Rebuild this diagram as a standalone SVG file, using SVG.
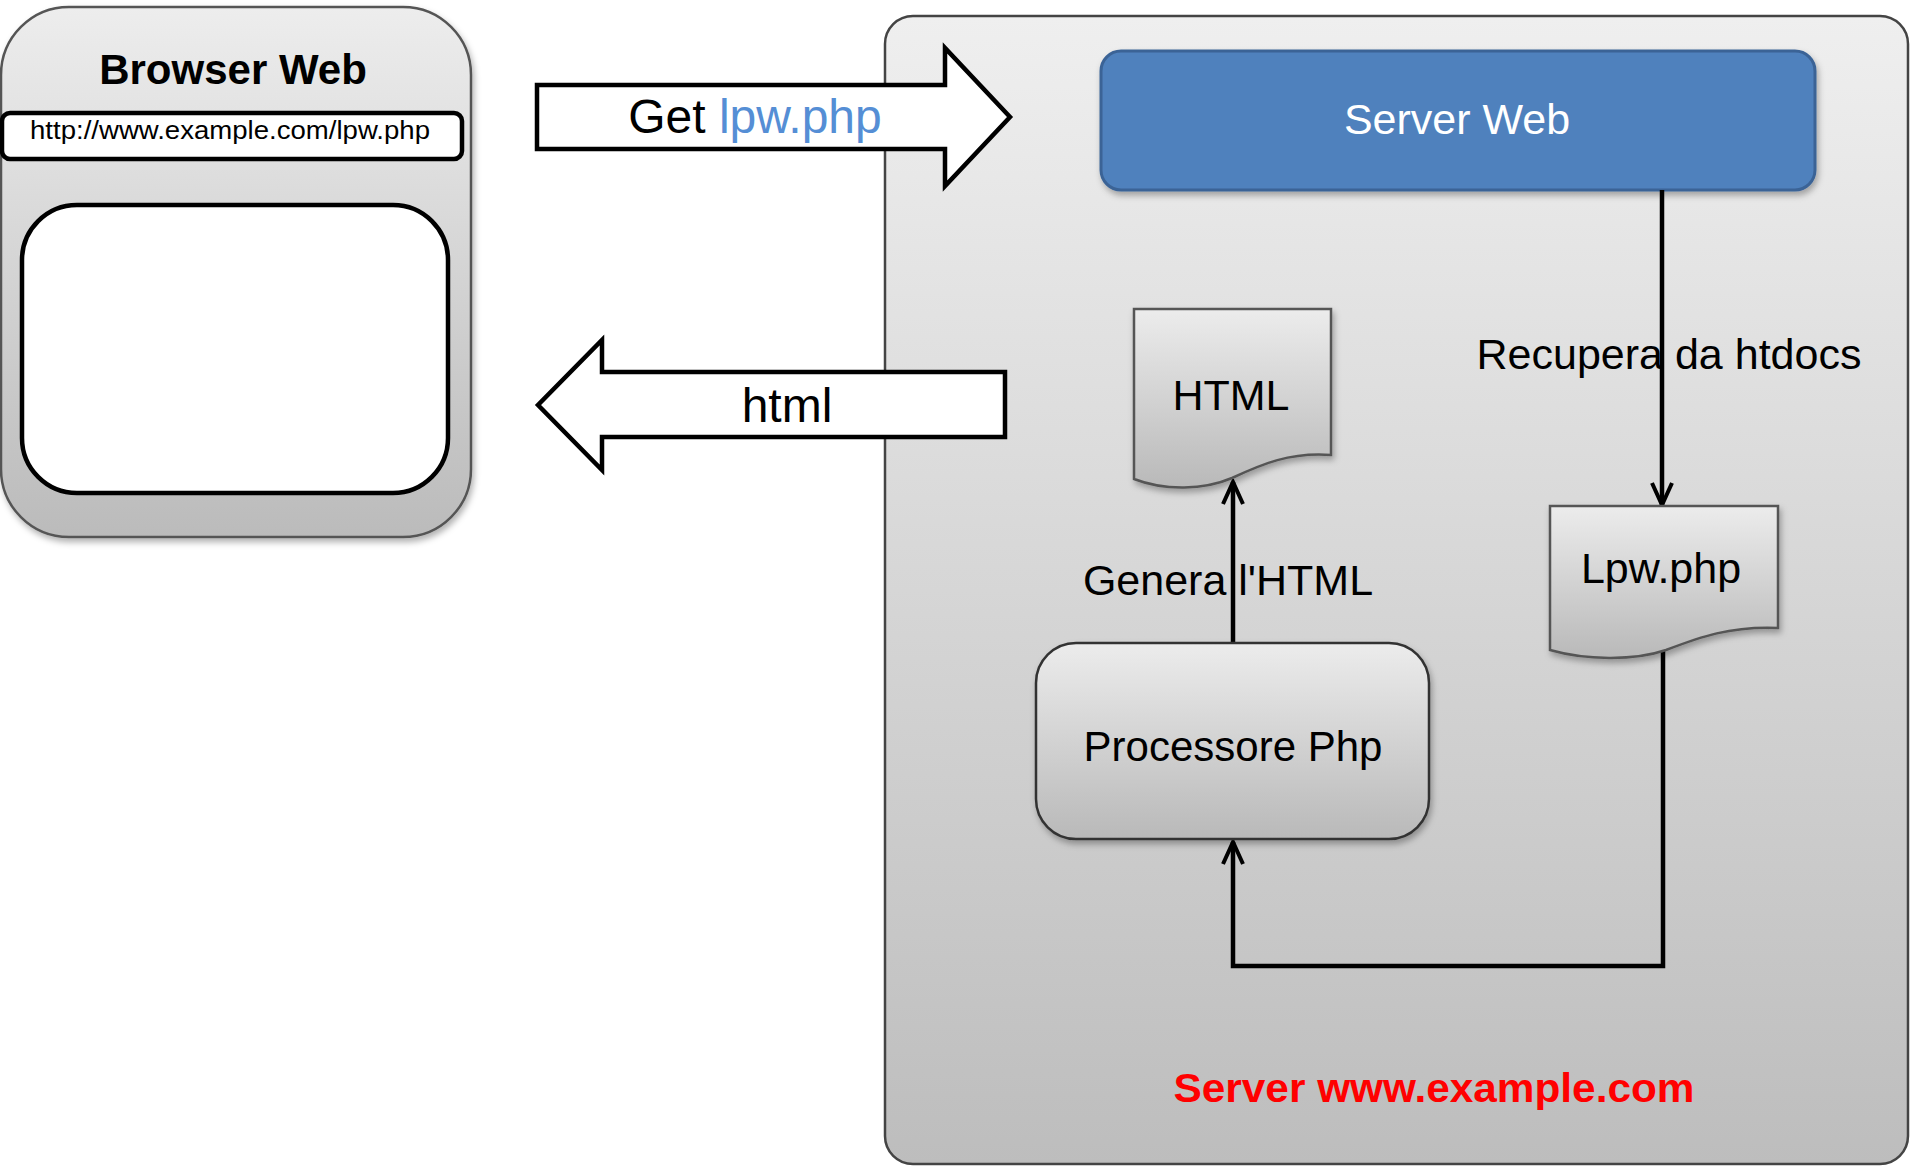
<svg xmlns="http://www.w3.org/2000/svg" width="1915" height="1166" viewBox="0 0 1915 1166">
<style>
text{font-family:"Liberation Sans",Arial,sans-serif;fill:#000}
.big{font-size:43px}
.bigarrow{fill:#fff;stroke:#000;stroke-width:4.5;stroke-linejoin:miter}
.conn{fill:none;stroke:#000;stroke-width:4.5}
.doc{stroke:#555;stroke-width:2.5}
</style>
<defs>
<linearGradient id="gBrowser" x1="0" y1="0" x2="0" y2="1"><stop offset="0" stop-color="#ededed"/><stop offset="1" stop-color="#bbbbbb"/></linearGradient>
<linearGradient id="gServer" x1="0" y1="0" x2="0" y2="1"><stop offset="0" stop-color="#efefef"/><stop offset="1" stop-color="#bdbdbd"/></linearGradient>
<linearGradient id="gNode" x1="0" y1="0" x2="0" y2="1"><stop offset="0" stop-color="#ececec"/><stop offset="1" stop-color="#b9b9b9"/></linearGradient>
<filter id="sh" x="-10%" y="-10%" width="125%" height="125%"><feDropShadow dx="2" dy="4" stdDeviation="3" flood-color="#000" flood-opacity="0.3"/></filter>
<marker id="arr" markerUnits="userSpaceOnUse" markerWidth="28" markerHeight="28" viewBox="0 0 28 28" refX="25" refY="14" orient="auto">
<path d="M3,4 L25,14 L3,24" fill="none" stroke="#000" stroke-width="4" stroke-linejoin="miter"/>
</marker>
</defs>

<g id="browser">
<rect x="1" y="7" width="470" height="530" rx="68" ry="68" fill="url(#gBrowser)" stroke="#555" stroke-width="2.5" filter="url(#sh)"/>
<text x="233" y="84" font-size="42" font-weight="bold" text-anchor="middle">Browser Web</text>
<rect x="2" y="113" width="460" height="46" rx="8" fill="#fff" stroke="#000" stroke-width="4.5"/>
<text x="230" y="139" font-size="25" text-anchor="middle" textLength="400" lengthAdjust="spacingAndGlyphs">http://www.example.com/lpw.php</text>
<rect x="22" y="205" width="426" height="288" rx="55" fill="#fff" stroke="#000" stroke-width="4.5"/>
</g>

<g id="server">
<rect x="885" y="16" width="1023" height="1148" rx="28" fill="url(#gServer)" stroke="#444" stroke-width="2.5"/>
<text x="1434" y="1102" font-size="40" font-weight="bold" text-anchor="middle" style="fill:#ff0000" textLength="521" lengthAdjust="spacingAndGlyphs">Server www.example.com</text>
</g>

<g id="arrow-get">
<polygon class="bigarrow" points="537,85 945,85 945,48 1010,117 945,186 945,149 537,149"/>
<text x="755" y="133" font-size="48" text-anchor="middle">Get <tspan style="fill:#558ed5">lpw.php</tspan></text>
</g>

<g id="arrow-html">
<polygon class="bigarrow" points="1005,372 602,372 602,340 538,405 602,470 602,437 1005,437"/>
<text x="787" y="422" font-size="48" text-anchor="middle">html</text>
</g>

<g id="serverweb">
<rect x="1101" y="51" width="714" height="139" rx="20" fill="#4f81bd" stroke="#3b6396" stroke-width="3" filter="url(#sh)"/>
<text x="1457" y="134" class="big" text-anchor="middle" style="fill:#fff">Server Web</text>
</g>

<g id="connectors">
<path class="conn" d="M1662,190 V505" marker-end="url(#arr)"/>
<path class="conn" d="M1663,650 V966 H1233 V842" marker-end="url(#arr)"/>
<path class="conn" d="M1233,642 V482" marker-end="url(#arr)"/>
</g>

<g id="html-doc">
<path class="doc" d="M1134,309 H1331 V455 C1290,452 1262,464 1232,478 C1204,490 1165,491 1134,479 Z" fill="url(#gNode)" filter="url(#sh)"/>
<text x="1231" y="410" class="big" text-anchor="middle">HTML</text>
</g>

<g id="lpw-doc">
<path class="doc" d="M1550,506 H1778 V628 C1730,626 1700,637 1666,650 C1634,661 1585,660 1550,650 Z" fill="url(#gNode)" filter="url(#sh)"/>
<text x="1661" y="583" class="big" text-anchor="middle">Lpw.php</text>
</g>

<g id="processore">
<rect x="1036" y="643" width="393" height="196" rx="40" fill="url(#gNode)" stroke="#333" stroke-width="2.5" filter="url(#sh)"/>
<text x="1233" y="761" font-size="42" text-anchor="middle">Processore Php</text>
</g>

<g id="labels">
<text x="1669" y="369" class="big" text-anchor="middle">Recupera da htdocs</text>
<text x="1228" y="595" class="big" text-anchor="middle">Genera l'HTML</text>
</g>
</svg>
